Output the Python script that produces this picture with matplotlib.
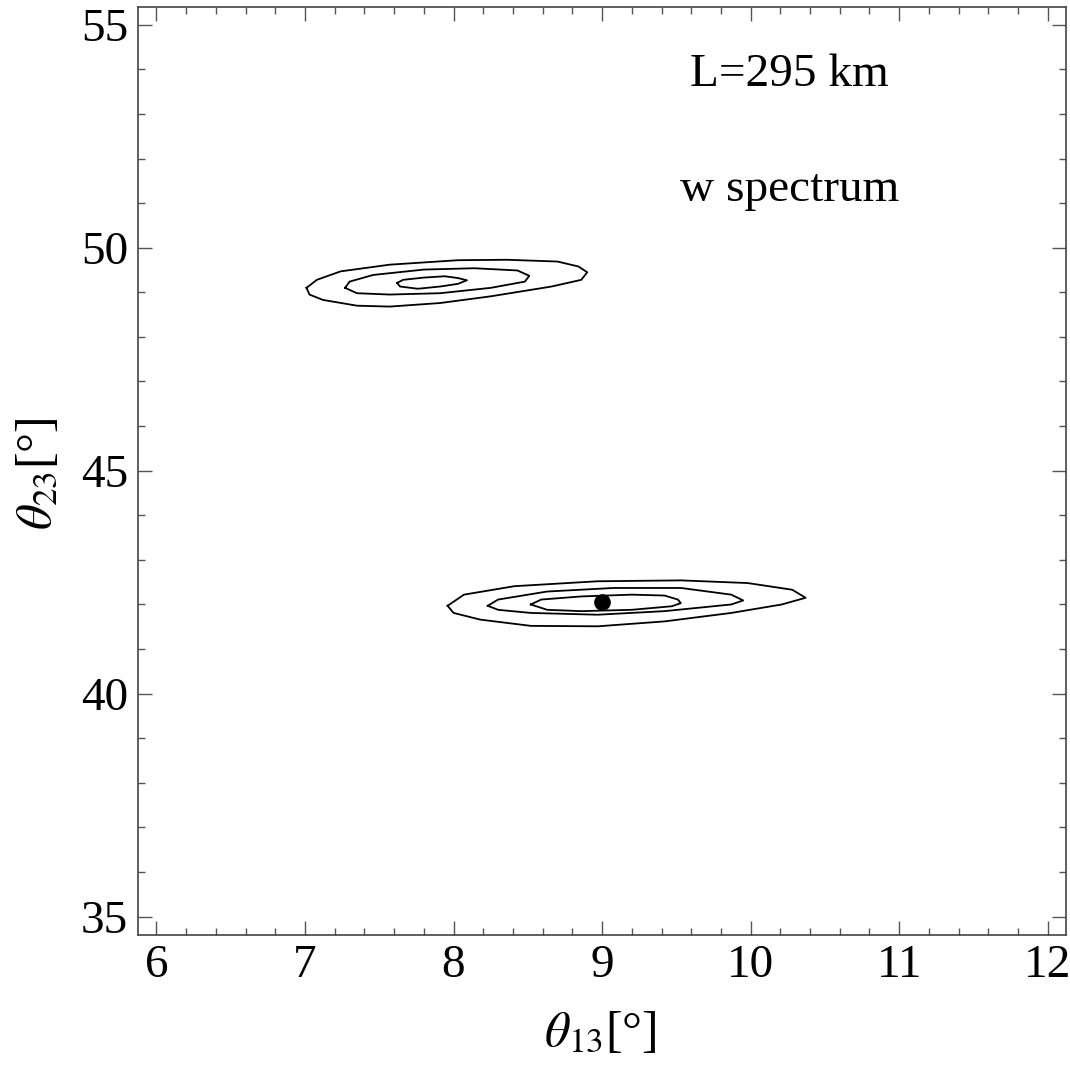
import numpy as np
import matplotlib
matplotlib.use('Agg')
import matplotlib.pyplot as plt
from matplotlib.ticker import MultipleLocator

plt.rcParams['font.family'] = ['Liberation Serif', 'DejaVu Serif']
plt.rcParams['mathtext.fontset'] = 'stix'

# 轮廓线顶点，上方一组 (theta13, theta23)
upper_outer_x = [7.01, 7.08, 7.24, 7.57, 8.03, 8.36, 8.70, 8.84, 8.90,
                 8.86, 8.66, 8.25, 7.91, 7.57, 7.35, 7.12, 7.03]
upper_outer_y = [49.10, 49.28, 49.47, 49.62, 49.72, 49.73, 49.69, 49.58, 49.45,
                 49.28, 49.13, 48.91, 48.76, 48.68, 48.70, 48.83, 48.95]
upper_mid_x = [7.27, 7.30, 7.46, 7.80, 8.14, 8.43, 8.51, 8.48, 8.25, 7.91, 7.57, 7.35]
upper_mid_y = [49.10, 49.24, 49.39, 49.51, 49.54, 49.49, 49.37, 49.24, 49.10, 48.98, 48.95, 48.98]
upper_in_x = [7.62, 7.66, 7.80, 7.94, 8.03, 8.09, 8.03, 7.91, 7.76, 7.64]
upper_in_y = [49.21, 49.28, 49.33, 49.36, 49.32, 49.27, 49.19, 49.13, 49.08, 49.13]

# 下方一组
lower_outer_x = [7.96, 8.07, 8.41, 8.97, 9.53, 9.98, 10.28, 10.37,
                 10.21, 9.87, 9.42, 8.97, 8.52, 8.18, 8.00]
lower_outer_y = [41.97, 42.22, 42.41, 42.52, 42.54, 42.48, 42.33, 42.15,
                 42.00, 41.81, 41.62, 41.51, 41.52, 41.66, 41.81]
lower_mid_x = [8.23, 8.30, 8.63, 9.08, 9.53, 9.87, 9.95, 9.87, 9.42, 8.97, 8.52, 8.30]
lower_mid_y = [41.97, 42.11, 42.29, 42.37, 42.37, 42.22, 42.09, 42.00, 41.85, 41.77, 41.81, 41.88]
lower_in_x = [8.52, 8.59, 8.86, 9.20, 9.42, 9.51, 9.53, 9.47, 9.20, 8.86, 8.63]
lower_in_y = [42.00, 42.11, 42.18, 42.22, 42.20, 42.11, 42.03, 41.96, 41.88, 41.85, 41.88]

# 真值点
true_x = [9.0]
true_y = [42.05]

contours = [
    (upper_outer_x, upper_outer_y), (upper_mid_x, upper_mid_y), (upper_in_x, upper_in_y),
    (lower_outer_x, lower_outer_y), (lower_mid_x, lower_mid_y), (lower_in_x, lower_in_y),
]

fig = plt.figure(figsize=(10.7, 10.66), dpi=100)
ax = fig.add_axes([0.129, 0.123, 0.867, 0.8705])

for cx, cy in contours:
    xs = list(cx) + [cx[0]]
    ys = list(cy) + [cy[0]]
    ax.plot(xs, ys, color='black', lw=1.3)

ax.plot(true_x, true_y, 'o', color='black', markersize=11)

ax.text(10.26, 53.88, 'L=295 km', fontsize=34, ha='center', va='center')
ax.text(10.26, 51.3, 'w spectrum', fontsize=34, ha='center', va='center')

ax.set_xlim(5.876, 12.121)
ax.set_ylim(34.59, 55.40)
ax.xaxis.set_major_locator(MultipleLocator(1))
ax.xaxis.set_minor_locator(MultipleLocator(0.2))
ax.yaxis.set_major_locator(MultipleLocator(5))
ax.yaxis.set_minor_locator(MultipleLocator(1))

ax.tick_params(which='both', direction='in', top=True, right=True,
               color='#555555', labelsize=34, pad=7)
ax.tick_params(which='major', length=10, width=1.0)
ax.tick_params(which='minor', length=5, width=1.0)
for s in ax.spines.values():
    s.set_color('#444444')
    s.set_linewidth(1.2)

fig.text(0.561, 0.03, r'$\theta_{13}$[°]', fontsize=36, ha='center', va='center')
fig.text(0.036, 0.556, r'$\theta_{23}$[°]', fontsize=36, ha='center', va='center',
         rotation=90)

fig.savefig('out.png', dpi=100)
